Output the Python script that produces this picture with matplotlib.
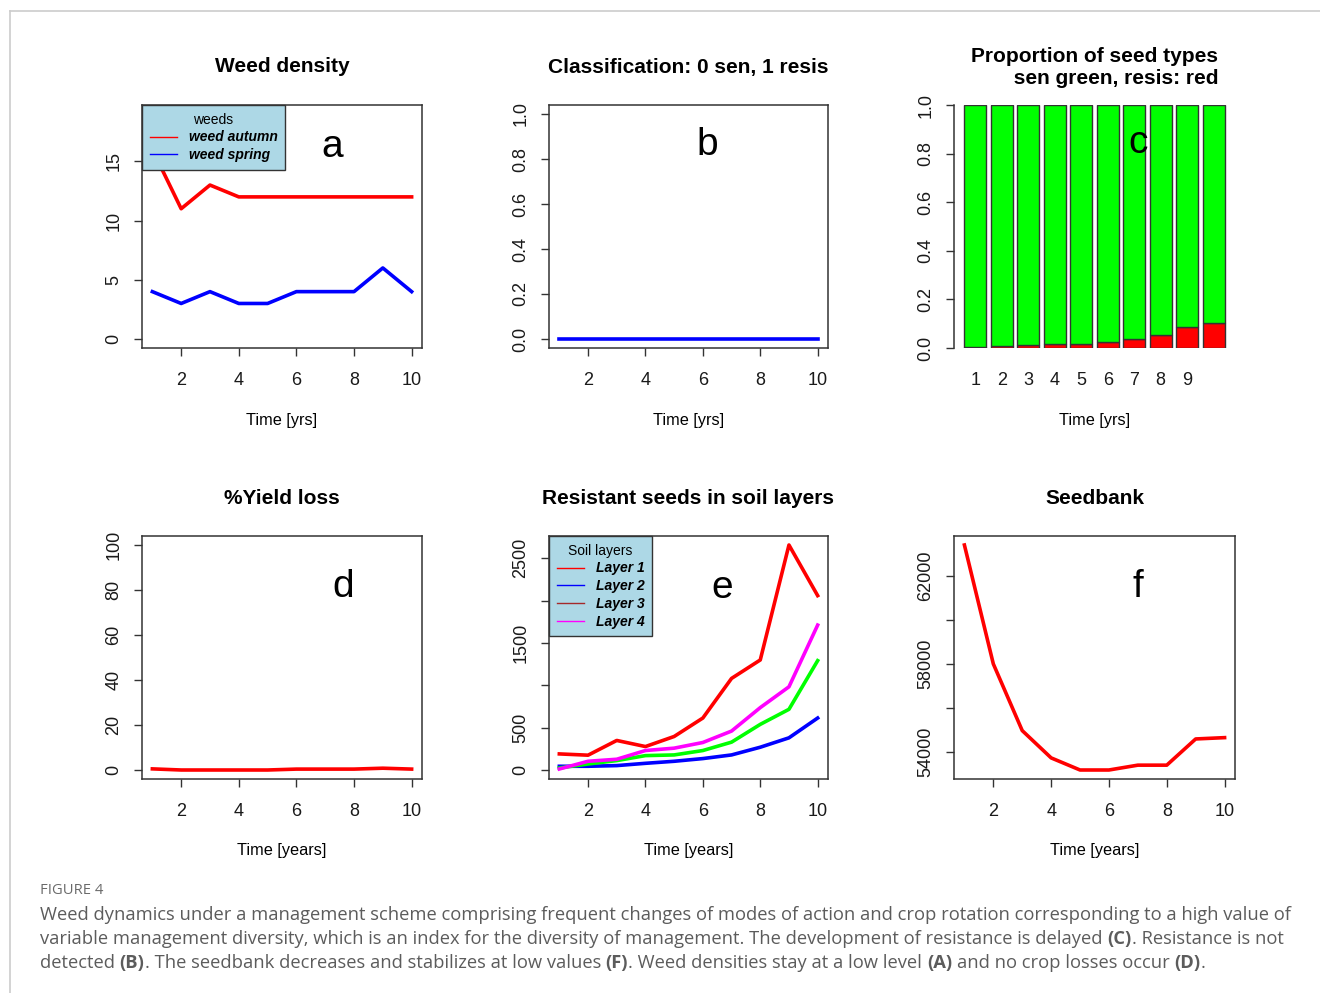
import matplotlib
matplotlib.use("Agg")
import matplotlib.pyplot as plt
from matplotlib.lines import Line2D

# ---- data ----
years = [1, 2, 3, 4, 5, 6, 7, 8, 9, 10]
weed_autumn = [16, 11, 13, 12, 12, 12, 12, 12, 12, 12]
weed_spring = [4, 3, 4, 3, 3, 4, 4, 4, 6, 4]
resis_class = [0, 0, 0, 0, 0, 0, 0, 0, 0, 0]
resis_share = [0.004, 0.008, 0.012, 0.016, 0.016, 0.025, 0.039, 0.053, 0.087, 0.104]
bar_names = ["1", "2", "3", "4", "5", "6", "7", "8", "9", ""]
yield_loss = [0.5, 0, 0, 0, 0, 0.4, 0.4, 0.4, 0.8, 0.4]
layer1 = [190, 175, 349, 277, 396, 614, 1082, 1300, 2658, 2060]
layer2 = [44, 44, 52, 79, 103, 135, 178, 269, 380, 614]
layer3 = [24, 71, 111, 170, 178, 230, 329, 539, 717, 1292]
layer4 = [12, 103, 127, 230, 258, 325, 460, 737, 983, 1712]
seedbank = [63400, 58000, 54970, 53730, 53180, 53180, 53400, 53400, 54590, 54650]

W, H = 1320, 993
DARK = "#333333"
RFONT = ["Liberation Sans", "DejaVu Sans"]
plt.rcParams["font.family"] = RFONT

fig = plt.figure(figsize=(W / 100, H / 100), dpi=100)


def px_axes(x0, y0, x1, y1):
    return fig.add_axes([x0 / W, 1 - y1 / H, (x1 - x0) / W, (y1 - y0) / H])


def r_lim(lo, hi):
    d = 0.04 * (hi - lo)
    return lo - d, hi + d


def r_style(ax, title, xlabel, letter, letter_xy, box=True):
    for s in ax.spines.values():
        s.set_color(DARK)
        s.set_linewidth(1.1)
    if not box:
        for s in ("top", "right", "bottom"):
            ax.spines[s].set_visible(False)
    ax.tick_params(direction="out", length=6, width=1.0, color=DARK,
                   labelsize=13, labelcolor="#1a1a1a")
    ax.tick_params(axis="x", pad=11)
    ax.tick_params(axis="y", pad=8, labelrotation=90)
    plt.setp(ax.get_yticklabels(), va="center")
    ax.text(0.5, 1 + 38 / 243, title, transform=ax.transAxes, ha="center",
            va="center", fontsize=15, fontweight="bold", multialignment="right")
    ax.text(0.5, -72 / 243, xlabel, transform=ax.transAxes, ha="center",
            va="center", fontsize=11.7)
    ax.text(letter_xy[0], letter_xy[1], letter, transform=ax.transAxes,
            ha="center", va="baseline", fontsize=28)


def r_legend(ax, colors, labels, title):
    handles = [Line2D([], [], color=c, lw=1.0) for c in colors]
    leg = ax.legend(handles, labels, title=title, loc="upper left",
                    bbox_to_anchor=(0, 1), borderaxespad=0, fancybox=False,
                    framealpha=1, facecolor="#ADD8E6", edgecolor=DARK,
                    prop={"weight": "bold", "style": "italic", "size": 10},
                    title_fontsize=10, handlelength=1.95, handletextpad=0.85,
                    labelspacing=0.27, borderpad=0.55)
    leg.get_frame().set_linewidth(1.0)
    return leg


xlim_years = r_lim(min(years), max(years))
lw = 2.6

# a: weed density
ax = px_axes(142, 105, 422, 348)
ax.plot(years, weed_autumn, color="#FF0000", lw=lw, solid_joinstyle="round")
ax.plot(years, weed_spring, color="#0000FF", lw=lw, solid_joinstyle="round")
ax.set_xlim(*xlim_years)
ax.set_ylim(*r_lim(0, 19))
ax.set_xticks([2, 4, 6, 8, 10])
ax.set_yticks([0, 5, 10, 15])
r_style(ax, "Weed density", "Time [yrs]", "a", (0.679, 1 - 52 / 243))
r_legend(ax, ["#FF0000", "#0000FF"], ["weed autumn", "weed spring"], "weeds")

# b: classification
ax = px_axes(549, 105, 828, 348)
ax.plot(years, resis_class, color="#0000FF", lw=lw)
ax.set_xlim(*xlim_years)
ax.set_ylim(*r_lim(0, 1))
ax.set_xticks([2, 4, 6, 8, 10])
ax.set_yticks([0, 0.2, 0.4, 0.6, 0.8, 1.0])
ax.set_yticklabels(["0.0", "0.2", "0.4", "0.6", "0.8", "1.0"])
r_style(ax, "Classification: 0 sen, 1 resis", "Time [yrs]", "b",
        (0.566, 1 - 50 / 243))

# c: proportion of seed types (stacked bars)
ax = px_axes(954, 105, 1235, 348)
n = len(resis_share)
centers = [0.7 + 1.2 * i for i in range(n)]
sens_share = [1 - r for r in resis_share]
ax.bar(centers, resis_share, width=1.0, color="#FF0000", edgecolor=DARK, lw=1.0)
ax.bar(centers, sens_share, bottom=resis_share, width=1.0, color="#00FF00",
       edgecolor=DARK, lw=1.0)
ax.set_xlim(*r_lim(centers[0] - 0.5, centers[-1] + 0.5))
ax.set_ylim(0, 1)
ax.set_xticks(centers)
ax.set_xticklabels(bar_names)
ax.set_yticks([0, 0.2, 0.4, 0.6, 0.8, 1.0])
ax.set_yticklabels(["0.0", "0.2", "0.4", "0.6", "0.8", "1.0"])
r_style(ax, "Proportion of seed types\n sen green, resis: red", "Time [yrs]",
        "c", (0.655, 1 - 48 / 243), box=False)
ax.tick_params(axis="x", length=0, pad=17)

# d: yield loss
ax = px_axes(142, 536, 422, 779)
ax.plot(years, yield_loss, color="#FF0000", lw=lw)
ax.set_xlim(*xlim_years)
ax.set_ylim(*r_lim(0, 100))
ax.set_xticks([2, 4, 6, 8, 10])
ax.set_yticks([0, 20, 40, 60, 80, 100])
r_style(ax, "%Yield loss", "Time [years]", "d", (0.718, 1 - 61 / 243))

# e: resistant seeds per soil layer
ax = px_axes(549, 536, 828, 779)
for vals, c in zip([layer1, layer2, layer3, layer4],
                   ["#FF0000", "#0000FF", "#00FF00", "#FF00FF"]):
    ax.plot(years, vals, color=c, lw=lw, solid_joinstyle="round")
ax.set_xlim(*xlim_years)
emax = max(max(layer1), max(layer2), max(layer3), max(layer4))
ax.set_ylim(*r_lim(0, emax))
ax.set_xticks([2, 4, 6, 8, 10])
ax.set_yticks([0, 500, 1000, 1500, 2000, 2500])
ax.set_yticklabels(["0", "500", "", "1500", "", "2500"])
r_style(ax, "Resistant seeds in soil layers", "Time [years]", "e",
        (0.62, 1 - 62 / 243))
r_legend(ax, ["#FF0000", "#0000FF", "#A52A2A", "#FF00FF"],
         ["Layer 1", "Layer 2", "Layer 3", "Layer 4"], "Soil layers")

# f: seedbank
ax = px_axes(954, 536, 1235, 779)
ax.plot(years, seedbank, color="#FF0000", lw=lw, solid_joinstyle="round")
ax.set_xlim(*xlim_years)
ax.set_ylim(*r_lim(min(seedbank), max(seedbank)))
ax.set_xticks([2, 4, 6, 8, 10])
ax.set_yticks([54000, 56000, 58000, 60000, 62000])
ax.set_yticklabels(["54000", "", "58000", "", "62000"])
r_style(ax, "Seedbank", "Time [years]", "f", (0.655, 1 - 61 / 243))

# ---- page frame lines ----
fig.add_artist(Line2D([10 / W, 1], [1 - 11 / H, 1 - 11 / H], color="#cccccc", lw=1.2))
fig.add_artist(Line2D([10 / W, 10 / W], [0, 1 - 11 / H], color="#cccccc", lw=1.2))

# ---- caption ----
CAP_FONT = ["Open Sans", "DejaVu Sans"]
renderer = fig.canvas.get_renderer()


def text_width(s, size, weight):
    t = fig.text(0, 0, "|" + s + "|", fontsize=size, fontweight=weight, family=CAP_FONT)
    t2 = fig.text(0, 0, "||", fontsize=size, fontweight=weight, family=CAP_FONT)
    w = t.get_window_extent(renderer).width - t2.get_window_extent(renderer).width
    t.remove()
    t2.remove()
    return w


line1 = ("Weed dynamics under a management scheme comprising frequent changes of modes "
         "of action and crop rotation corresponding to a high value of")
cap_size = 12 * 1251 / text_width(line1, 12, "normal") * 0.997

caption_lines = [
    [(line1, "normal")],
    [("variable management diversity, which is an index for the diversity of "
      "management. The development of resistance is delayed ", "normal"),
     ("(C)", "bold"), (". Resistance is not", "normal")],
    [("detected ", "normal"), ("(B)", "bold"),
     (". The seedbank decreases and stabilizes at low values ", "normal"),
     ("(F)", "bold"), (". Weed densities stay at a low level ", "normal"),
     ("(A)", "bold"), (" and no crop losses occur ", "normal"), ("(D)", "bold"),
     (".", "normal")],
]
CAP_COLOR = "#5c5c5c"
fig.text(40 / W, 1 - 891 / H, "FIGURE 4", fontsize=cap_size * 0.8, family=CAP_FONT,
         color="#6a6a6a", va="center", ha="left")
for i, runs in enumerate(caption_lines):
    y = 1 - (915 + 24 * i) / H
    x = 40.0
    for s, weight in runs:
        lead = len(s) - len(s.lstrip(" "))
        x_draw = x + (text_width(" " * lead, cap_size, weight) if lead else 0)
        fig.text(x_draw / W, y, s.strip(" "), fontsize=cap_size, fontweight=weight,
                 family=CAP_FONT, color=CAP_COLOR, va="center", ha="left")
        x += text_width(s, cap_size, weight)

fig.savefig("out.png", dpi=100)
